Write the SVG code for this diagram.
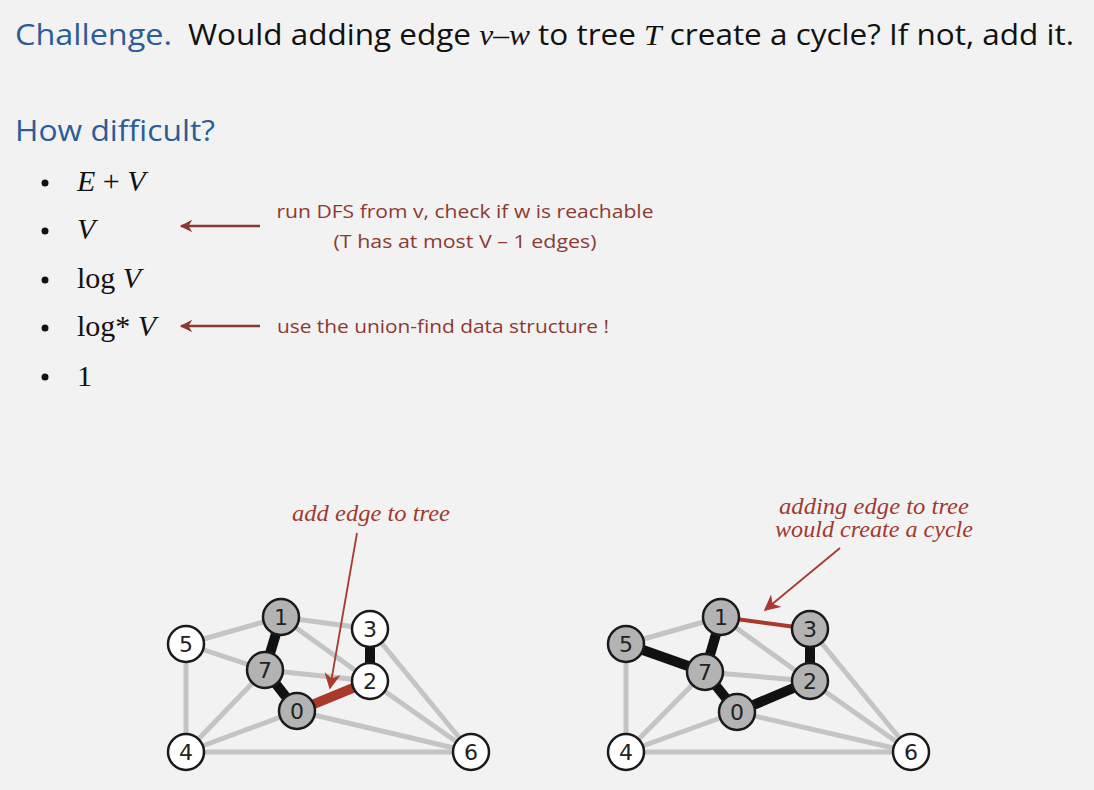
<svg xmlns="http://www.w3.org/2000/svg" width="1094" height="790" viewBox="0 0 1094 790">
<defs>
<style>
.bg{fill:#f2f2f2}
.h{font-family:"Open Sans","Liberation Sans",sans-serif;fill:#2b5d97}
.t{font-family:"Open Sans","Liberation Sans",sans-serif;fill:#111}
.m{font-family:"Liberation Serif",serif;font-size:30px;fill:#111}
.note{font-family:"Open Sans","Liberation Sans",sans-serif;font-size:18px;fill:#8c3a31}
.lab{font-family:"Liberation Serif",serif;font-style:italic;font-size:23px;fill:#a03a30}
.g{stroke:#c4c4c4;stroke-width:5;fill:none}
.k{stroke:#111;stroke-width:10;fill:none}
.nw circle{fill:#fff;stroke:#1a1a1a;stroke-width:2.5}
.ng circle{fill:#b3b3b3;stroke:#1a1a1a;stroke-width:2.5}
.nl{font-family:"DejaVu Sans",sans-serif;font-size:22px;fill:#222;text-anchor:middle}
.arr{stroke:#8c3a31;stroke-width:2.5;fill:none}
.arr2{stroke:#a83a30;stroke-width:1.8;fill:none}
</style>
<marker id="ah" viewBox="0 0 10 10" refX="9" refY="5" markerWidth="5" markerHeight="5" orient="auto" markerUnits="strokeWidth"><path d="M0,0 L10,5 L0,10 L3,5 z" fill="#8c3a31"/></marker>
<marker id="ah2" viewBox="0 0 10 10" refX="9" refY="5" markerWidth="9" markerHeight="9" orient="auto" markerUnits="strokeWidth"><path d="M0,0 L10,5 L0,10 L3,5 z" fill="#a83a30"/></marker>
</defs>
<rect class="bg" x="0" y="0" width="1094" height="790"/>

<text class="h" x="15" y="45" font-size="29" textLength="157" lengthAdjust="spacingAndGlyphs">Challenge.</text>
<text x="188" y="45" font-size="29" textLength="886" lengthAdjust="spacingAndGlyphs"><tspan class="t">Would adding edge </tspan><tspan font-family="Liberation Serif,serif" font-style="italic" fill="#111">v–w</tspan><tspan class="t"> to tree </tspan><tspan font-family="Liberation Serif,serif" font-style="italic" fill="#111">T</tspan><tspan class="t"> create a cycle? If not, add it.</tspan></text>

<text class="h" x="15" y="141" font-size="29" textLength="200" lengthAdjust="spacingAndGlyphs">How difficult?</text>

<g id="bullets" fill="#111">
<circle cx="45" cy="183" r="3.5"/>
<circle cx="45" cy="231" r="3.5"/>
<circle cx="45" cy="280" r="3.5"/>
<circle cx="45" cy="328" r="3.5"/>
<circle cx="45" cy="377" r="3.5"/>
<text class="m" x="77" y="191"><tspan font-style="italic">E</tspan> + <tspan font-style="italic">V</tspan></text>
<text class="m" x="77" y="239" font-style="italic">V</text>
<text class="m" x="77" y="288">log <tspan font-style="italic">V</tspan></text>
<text class="m" x="77" y="336">log* <tspan font-style="italic">V</tspan></text>
<text class="m" x="77" y="386">1</text>
</g>

<g id="notes">
<line class="arr" x1="260" y1="226" x2="181" y2="226" marker-end="url(#ah)"/>
<line class="arr" x1="260" y1="326" x2="181" y2="326" marker-end="url(#ah)"/>
<text class="note" x="465" y="218" text-anchor="middle" textLength="377" lengthAdjust="spacingAndGlyphs">run DFS from v, check if w is reachable</text>
<text class="note" x="465" y="248" text-anchor="middle" textLength="263" lengthAdjust="spacingAndGlyphs">(T has at most V – 1 edges)</text>
<text class="note" x="277" y="333" textLength="332" lengthAdjust="spacingAndGlyphs">use the union-find data structure !</text>
</g>

<text class="lab" x="371" y="521" text-anchor="middle" textLength="158" lengthAdjust="spacingAndGlyphs">add edge to tree</text>
<text class="lab" x="874" y="514" text-anchor="middle" textLength="190" lengthAdjust="spacingAndGlyphs">adding edge to tree</text>
<text class="lab" x="874" y="537" text-anchor="middle" textLength="198" lengthAdjust="spacingAndGlyphs">would create a cycle</text>

<g id="connectors">
<g class="g">
<line x1="186" y1="644" x2="281" y2="617"/>
<line x1="186" y1="644" x2="265" y2="670"/>
<line x1="186" y1="644" x2="186" y2="752"/>
<line x1="281" y1="617" x2="370" y2="629"/>
<line x1="281" y1="617" x2="370" y2="681"/>
<line x1="265" y1="670" x2="370" y2="681"/>
<line x1="265" y1="670" x2="186" y2="752"/>
<line x1="297" y1="711" x2="186" y2="752"/>
<line x1="297" y1="711" x2="471" y2="752"/>
<line x1="186" y1="752" x2="471" y2="752"/>
<line x1="370" y1="681" x2="471" y2="752"/>
<line x1="370" y1="629" x2="471" y2="752"/>
</g>
<g class="k">
<line x1="281" y1="617" x2="265" y2="670"/>
<line x1="265" y1="670" x2="297" y2="711"/>
<line x1="370" y1="629" x2="370" y2="681"/>
</g>
<line x1="297" y1="711" x2="370" y2="681" stroke="#a83a2a" stroke-width="10"/>
<g class="g">
<line x1="626" y1="644" x2="721" y2="617"/>
<line x1="626" y1="644" x2="626" y2="752"/>
<line x1="721" y1="617" x2="810" y2="681"/>
<line x1="705" y1="672" x2="810" y2="681"/>
<line x1="705" y1="672" x2="626" y2="752"/>
<line x1="737" y1="712" x2="626" y2="752"/>
<line x1="737" y1="712" x2="911" y2="752"/>
<line x1="626" y1="752" x2="911" y2="752"/>
<line x1="810" y1="681" x2="911" y2="752"/>
<line x1="810" y1="629" x2="911" y2="752"/>
</g>
<g class="k">
<line x1="626" y1="644" x2="705" y2="672"/>
<line x1="721" y1="617" x2="705" y2="672"/>
<line x1="705" y1="672" x2="737" y2="712"/>
<line x1="737" y1="712" x2="810" y2="681"/>
<line x1="810" y1="629" x2="810" y2="681"/>
</g>
<line x1="721" y1="617" x2="810" y2="629" stroke="#a83a2a" stroke-width="4"/>
<line class="arr2" x1="357" y1="533" x2="330" y2="688" marker-end="url(#ah2)"/>
<line class="arr2" x1="840" y1="548" x2="765" y2="610" marker-end="url(#ah2)"/>
</g>

<g id="L5" class="nw"><circle cx="186" cy="644" r="18"/><text class="nl" x="186" y="652">5</text></g>
<g id="L1" class="ng"><circle cx="281" cy="617" r="18"/><text class="nl" x="281" y="625">1</text></g>
<g id="L3" class="nw"><circle cx="370" cy="629" r="18"/><text class="nl" x="370" y="637">3</text></g>
<g id="L7" class="ng"><circle cx="265" cy="670" r="18"/><text class="nl" x="265" y="678">7</text></g>
<g id="L2" class="nw"><circle cx="370" cy="681" r="18"/><text class="nl" x="370" y="689">2</text></g>
<g id="L0" class="ng"><circle cx="297" cy="711" r="18"/><text class="nl" x="297" y="719">0</text></g>
<g id="L4" class="nw"><circle cx="186" cy="752" r="18"/><text class="nl" x="186" y="760">4</text></g>
<g id="L6" class="nw"><circle cx="471" cy="752" r="18"/><text class="nl" x="471" y="760">6</text></g>

<g id="R5" class="ng"><circle cx="626" cy="644" r="18"/><text class="nl" x="626" y="652">5</text></g>
<g id="R1" class="ng"><circle cx="721" cy="617" r="18"/><text class="nl" x="721" y="625">1</text></g>
<g id="R3" class="ng"><circle cx="810" cy="629" r="18"/><text class="nl" x="810" y="637">3</text></g>
<g id="R7" class="ng"><circle cx="705" cy="672" r="18"/><text class="nl" x="705" y="680">7</text></g>
<g id="R2" class="ng"><circle cx="810" cy="681" r="18"/><text class="nl" x="810" y="689">2</text></g>
<g id="R0" class="ng"><circle cx="737" cy="712" r="18"/><text class="nl" x="737" y="720">0</text></g>
<g id="R4" class="nw"><circle cx="626" cy="752" r="18"/><text class="nl" x="626" y="760">4</text></g>
<g id="R6" class="nw"><circle cx="911" cy="752" r="18"/><text class="nl" x="911" y="760">6</text></g>
</svg>
